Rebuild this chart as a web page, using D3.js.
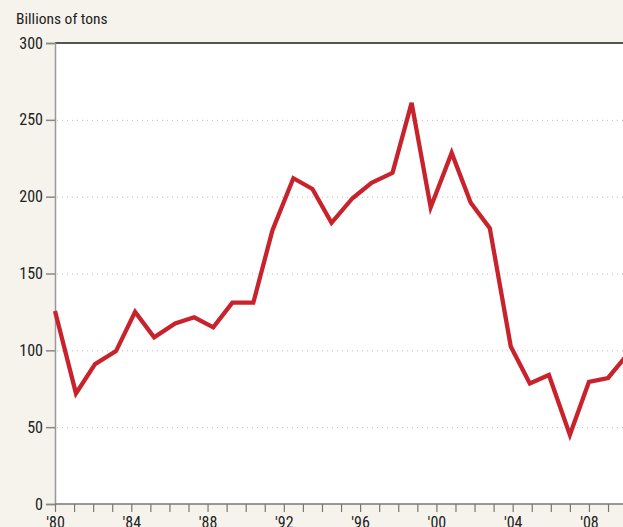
<!DOCTYPE html>
<html>
<head>
<meta charset="utf-8">
<script src="https://cdn.jsdelivr.net/npm/d3@7"></script>
<style>
body { margin: 0; background: #f6f3ec; }
svg { display: block; }
text { font-family: "Liberation Sans Narrow", "Arial Narrow", "Roboto Condensed", sans-serif; fill: #222; }
</style>
</head>
<body>
<div id="chart"></div>
<script>
// points sit slightly off the yearly ticks in the original, so keep decimal years
var years = [1980.0, 1981.1, 1982.1, 1983.2, 1984.2, 1985.2, 1986.3, 1987.3, 1988.3, 1989.3,
    1990.4, 1991.4, 1992.5, 1993.5, 1994.5, 1995.6, 1996.6, 1997.7, 1998.7, 1999.7,
    2000.8, 2001.8, 2002.8, 2003.9, 2004.9, 2005.9, 2007.0, 2008.0, 2009.0, 2010.0];
var values = [125.6, 72, 91, 99.5, 125, 108.5, 117.5, 121.5, 115, 131,
    131, 178, 212, 205, 183, 199, 209, 215.5, 261, 193,
    228.5, 196, 179.5, 102.5, 78.5, 84, 45, 79.5, 82, 97];
var yTicks = [0, 50, 100, 150, 200, 250, 300];
var labelYears = [1980, 1984, 1988, 1992, 1996, 2000, 2004, 2008];
var unitLabel = "Billions of tons";

var W = 623, H = 527;
var m = {left: 55, top: 43, bottom: 504};

var x = d3.scaleLinear().domain([1980, 2010]).range([m.left, m.left + 30 * 19.07]);
var y = d3.scaleLinear().domain([0, 300]).range([m.bottom, m.top]);

var svg = d3.select("#chart").append("svg")
    .attr("width", W)
    .attr("height", H);

svg.append("rect")
    .attr("x", m.left).attr("y", m.top)
    .attr("width", W - m.left).attr("height", m.bottom - m.top)
    .attr("fill", "#fff");

svg.append("text")
    .attr("x", 16).attr("y", 24)
    .style("font-size", "15.5px")
    .text(unitLabel);

// dotted gridlines
svg.selectAll(".grid").data(yTicks.filter(function(d) { return d > 0 && d < 300; }))
    .enter().append("line")
    .attr("x1", m.left + 2).attr("x2", W)
    .attr("y1", function(d) { return y(d) + 0.5; })
    .attr("y2", function(d) { return y(d) + 0.5; })
    .attr("stroke", "#bbb")
    .attr("stroke-width", 1)
    .attr("stroke-dasharray", "1,4");

// top border
svg.append("line")
    .attr("x1", m.left).attr("x2", W)
    .attr("y1", m.top).attr("y2", m.top)
    .attr("stroke", "#555").attr("stroke-width", 2);

// y axis
var yAxis = d3.axisLeft(y).tickValues(yTicks).tickSize(9).tickPadding(3);
var gy = svg.append("g").attr("transform", "translate(" + m.left + ",0)").call(yAxis);
gy.select(".domain").attr("stroke", "#999").attr("stroke-width", 1.5);
gy.selectAll(".tick line").attr("stroke", "#888").attr("stroke-width", 1.5);
gy.selectAll("text").style("font-size", "16px").attr("fill", "#222");

// x axis, ticks every year, labels every four
var allYears = d3.range(1980, 2010);
var xAxis = d3.axisBottom(x).tickValues(allYears).tickSize(8).tickPadding(5)
    .tickFormat(function(d) { return labelYears.indexOf(d) >= 0 ? "'" + String(d).slice(2) : ""; });
var gx = svg.append("g").attr("transform", "translate(0," + m.bottom + ")").call(xAxis);
gx.select(".domain").attr("stroke", "#777").attr("stroke-width", 1.5).attr("d", "M" + m.left + ",0H" + W);
gx.selectAll(".tick line").attr("stroke", "#777").attr("stroke-width", 1.2);
gx.selectAll("text").style("font-size", "16px").attr("fill", "#222");

var line = d3.line()
    .x(function(d, i) { return x(years[i]); })
    .y(function(d) { return y(d); });

svg.append("path")
    .datum(values)
    .attr("d", line)
    .attr("fill", "none")
    .attr("stroke", "#c8232c")
    .attr("stroke-width", 4.3)
    .attr("stroke-linejoin", "miter");
</script>
</body>
</html>
